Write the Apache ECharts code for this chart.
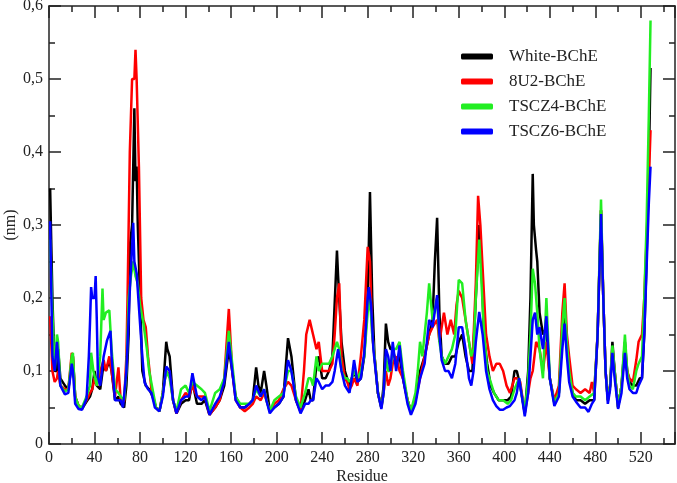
<!DOCTYPE html>
<html>
<head>
<meta charset="utf-8">
<title>RMSF</title>
<script src="https://cdn.jsdelivr.net/npm/echarts@6/dist/echarts.min.js"></script>
<style>
	html, body { margin: 0; padding: 0; background: #fff; }
	#main { width: 677px; height: 483px; }
</style>
</head>
<body>
<div id="main"></div>
<script>
	// 数据：[残基, 值(nm)]
	var seriesNames = ['White-BChE', '8U2-BChE', 'TSCZ4-BChE', 'TSCZ6-BChE'];
	var seriesColors = ['#000000', '#ff0000', '#22ee22', '#0000ff'];
	var xTicks = [0, 40, 80, 120, 160, 200, 240, 280, 320, 360, 400, 440, 480, 520];
	var yTicks = [0, 0.1, 0.2, 0.3, 0.4, 0.5, 0.6];

	var whiteBChE = [[1,0.35],[3,0.2],[5,0.1],[7,0.1],[8,0.13],[10,0.09],[14,0.08],[17,0.075],[20,0.11],[21,0.12],[23,0.065],[26,0.052],[29,0.048],[33,0.058],[36,0.065],[38,0.075],[40,0.1],[42,0.08],[45,0.075],[48,0.11],[50,0.1],[53,0.115],[55,0.1],[58,0.06],[61,0.065],[63,0.055],[66,0.05],[68,0.08],[70,0.15],[71,0.27],[73,0.3],[75,0.46],[76,0.36],[77,0.38],[78,0.3],[80,0.2],[82,0.1],[85,0.08],[88,0.075],[91,0.065],[94,0.05],[97,0.045],[100,0.07],[103,0.14],[104,0.13],[106,0.12],[109,0.06],[112,0.042],[116,0.055],[120,0.06],[123,0.06],[126,0.085],[130,0.055],[134,0.055],[137,0.06],[141,0.04],[146,0.05],[150,0.06],[154,0.08],[158,0.13],[161,0.1],[164,0.065],[168,0.05],[172,0.05],[176,0.055],[179,0.06],[182,0.105],[184,0.08],[186,0.07],[189,0.1],[191,0.08],[194,0.045],[198,0.05],[202,0.055],[206,0.065],[210,0.145],[213,0.12],[217,0.06],[221,0.045],[225,0.06],[228,0.075],[230,0.06],[232,0.06],[235,0.11],[237,0.12],[240,0.09],[243,0.09],[246,0.1],[249,0.12],[253,0.265],[254,0.23],[255,0.2],[257,0.14],[260,0.1],[262,0.09],[264,0.08],[266,0.09],[268,0.1],[271,0.085],[274,0.09],[277,0.12],[280,0.2],[282,0.345],[284,0.2],[286,0.12],[289,0.07],[292,0.05],[294,0.08],[296,0.165],[298,0.14],[300,0.13],[302,0.13],[305,0.11],[308,0.12],[311,0.09],[315,0.06],[318,0.045],[322,0.06],[326,0.1],[330,0.12],[334,0.15],[337,0.17],[339,0.25],[341,0.31],[343,0.18],[345,0.12],[348,0.11],[351,0.11],[354,0.12],[357,0.12],[360,0.14],[363,0.15],[366,0.12],[369,0.1],[372,0.1],[375,0.2],[378,0.3],[380,0.25],[382,0.15],[385,0.11],[388,0.08],[391,0.07],[395,0.06],[399,0.06],[403,0.06],[406,0.065],[409,0.1],[411,0.1],[414,0.08],[418,0.042],[421,0.1],[423,0.2],[425,0.37],[426,0.3],[428,0.265],[429,0.25],[431,0.18],[434,0.15],[437,0.16],[440,0.09],[444,0.056],[448,0.07],[451,0.15],[453,0.19],[455,0.14],[457,0.1],[460,0.07],[463,0.06],[467,0.06],[471,0.055],[475,0.06],[479,0.06],[482,0.15],[485,0.32],[487,0.2],[489,0.1],[491,0.06],[493,0.08],[495,0.14],[497,0.1],[500,0.05],[503,0.08],[506,0.14],[508,0.1],[510,0.085],[513,0.08],[516,0.08],[519,0.09],[521,0.09],[523,0.15],[525,0.25],[527,0.38],[528.5,0.515]];

	var u8BChE = [[1,0.175],[3,0.1],[5,0.085],[7,0.09],[8,0.1],[10,0.08],[14,0.075],[17,0.075],[20,0.125],[21,0.12],[23,0.065],[26,0.052],[29,0.05],[33,0.06],[36,0.07],[38,0.075],[40,0.09],[42,0.08],[45,0.1],[48,0.115],[50,0.1],[53,0.12],[55,0.1],[58,0.065],[61,0.105],[63,0.06],[66,0.058],[68,0.12],[69,0.2],[71,0.4],[73,0.5],[75,0.5],[76,0.54],[77,0.5],[78,0.5],[79,0.38],[81,0.2],[83,0.17],[85,0.16],[87,0.12],[90,0.075],[94,0.05],[97,0.045],[100,0.07],[103,0.1],[106,0.095],[109,0.06],[112,0.042],[116,0.06],[120,0.07],[123,0.065],[126,0.08],[130,0.065],[134,0.065],[137,0.065],[141,0.04],[146,0.05],[150,0.06],[154,0.09],[158,0.185],[161,0.1],[164,0.06],[168,0.05],[172,0.045],[176,0.05],[179,0.055],[182,0.065],[186,0.06],[189,0.07],[191,0.06],[194,0.045],[198,0.055],[202,0.06],[206,0.075],[210,0.085],[213,0.08],[217,0.06],[221,0.045],[224,0.1],[226,0.15],[229,0.17],[232,0.15],[235,0.13],[237,0.14],[240,0.1],[243,0.1],[246,0.1],[249,0.11],[251,0.15],[253,0.2],[255,0.22],[257,0.12],[260,0.09],[262,0.085],[264,0.075],[266,0.08],[268,0.09],[271,0.08],[274,0.12],[277,0.17],[280,0.27],[282,0.25],[284,0.15],[286,0.12],[289,0.07],[292,0.05],[294,0.07],[296,0.1],[298,0.08],[300,0.09],[302,0.11],[305,0.12],[308,0.1],[311,0.09],[315,0.06],[318,0.045],[322,0.06],[326,0.09],[330,0.12],[334,0.15],[337,0.16],[341,0.17],[343,0.14],[345,0.16],[347,0.18],[350,0.15],[353,0.17],[356,0.15],[358,0.19],[360,0.21],[363,0.2],[366,0.17],[369,0.14],[372,0.11],[375,0.22],[377,0.34],[379,0.3],[381,0.24],[384,0.15],[387,0.12],[390,0.1],[393,0.11],[396,0.11],[399,0.1],[402,0.08],[405,0.07],[409,0.09],[411,0.09],[414,0.085],[418,0.042],[421,0.07],[423,0.09],[425,0.1],[428,0.14],[431,0.13],[434,0.1],[437,0.14],[440,0.09],[444,0.06],[448,0.08],[451,0.18],[453,0.22],[455,0.15],[457,0.12],[460,0.08],[463,0.075],[467,0.07],[471,0.075],[475,0.07],[477,0.085],[479,0.07],[482,0.15],[485,0.32],[487,0.2],[489,0.1],[491,0.06],[493,0.08],[495,0.13],[497,0.1],[500,0.05],[503,0.08],[506,0.13],[508,0.1],[510,0.09],[513,0.085],[516,0.115],[518,0.14],[521,0.15],[523,0.2],[525,0.28],[527,0.36],[528.5,0.43]];

	var tscz4BChE = [[1,0.28],[3,0.18],[5,0.1],[7,0.15],[8,0.14],[10,0.08],[14,0.072],[17,0.075],[20,0.12],[21,0.125],[23,0.065],[26,0.052],[29,0.05],[33,0.065],[36,0.08],[37,0.125],[39,0.1],[42,0.08],[45,0.12],[47,0.213],[48,0.17],[50,0.18],[53,0.183],[55,0.13],[58,0.075],[61,0.07],[63,0.065],[66,0.06],[68,0.1],[70,0.2],[72,0.23],[74,0.25],[76,0.23],[78,0.22],[80,0.19],[83,0.165],[86,0.13],[88,0.1],[91,0.075],[94,0.05],[97,0.045],[100,0.07],[103,0.1],[106,0.09],[109,0.06],[112,0.045],[116,0.075],[120,0.08],[123,0.07],[126,0.085],[130,0.08],[134,0.075],[137,0.07],[141,0.045],[146,0.07],[150,0.075],[154,0.09],[158,0.155],[161,0.11],[164,0.065],[168,0.055],[172,0.055],[176,0.055],[179,0.06],[182,0.075],[186,0.065],[189,0.075],[191,0.06],[194,0.045],[198,0.06],[202,0.065],[206,0.07],[210,0.1],[213,0.1],[217,0.065],[221,0.05],[225,0.07],[228,0.09],[230,0.09],[232,0.08],[235,0.12],[237,0.1],[240,0.11],[243,0.11],[246,0.11],[249,0.12],[253,0.14],[255,0.13],[257,0.1],[260,0.09],[262,0.09],[264,0.085],[266,0.09],[268,0.1],[271,0.09],[274,0.1],[277,0.12],[280,0.18],[282,0.2],[284,0.15],[286,0.12],[289,0.07],[292,0.05],[294,0.07],[296,0.12],[298,0.1],[300,0.1],[302,0.13],[305,0.13],[308,0.14],[311,0.1],[315,0.06],[318,0.045],[322,0.07],[324,0.1],[326,0.14],[328,0.12],[330,0.15],[332,0.18],[334,0.22],[337,0.17],[341,0.2],[343,0.14],[345,0.12],[348,0.11],[351,0.12],[354,0.13],[357,0.15],[360,0.225],[363,0.22],[366,0.17],[368,0.15],[371,0.12],[373,0.13],[375,0.2],[378,0.28],[380,0.22],[382,0.16],[385,0.1],[388,0.085],[391,0.07],[395,0.06],[399,0.06],[403,0.055],[406,0.06],[409,0.075],[413,0.09],[415,0.07],[418,0.045],[421,0.09],[423,0.15],[425,0.24],[427,0.22],[429,0.18],[431,0.13],[434,0.09],[437,0.2],[440,0.09],[444,0.056],[448,0.07],[451,0.16],[453,0.2],[455,0.14],[457,0.1],[460,0.07],[463,0.065],[467,0.065],[471,0.06],[475,0.065],[479,0.07],[482,0.15],[485,0.335],[487,0.2],[489,0.1],[491,0.06],[493,0.08],[495,0.135],[497,0.1],[500,0.05],[503,0.08],[506,0.15],[508,0.1],[510,0.08],[513,0.075],[516,0.1],[518,0.11],[521,0.12],[523,0.2],[525,0.3],[527,0.45],[528.5,0.58]];

	var tscz6BChE = [[1,0.305],[3,0.12],[5,0.1],[7,0.14],[8,0.12],[10,0.08],[14,0.068],[17,0.07],[20,0.11],[21,0.1],[23,0.055],[26,0.048],[29,0.047],[33,0.062],[35,0.12],[36,0.165],[37,0.215],[38,0.2],[40,0.2],[41,0.23],[42,0.17],[43,0.092],[45,0.08],[48,0.12],[51,0.142],[54,0.155],[55,0.12],[58,0.06],[61,0.06],[63,0.06],[65,0.05],[68,0.1],[71,0.21],[73,0.27],[74,0.303],[75,0.25],[77,0.234],[80,0.165],[82,0.12],[84,0.084],[87,0.075],[90,0.07],[93,0.05],[97,0.045],[100,0.065],[103,0.106],[106,0.1],[109,0.06],[112,0.042],[116,0.06],[120,0.065],[123,0.065],[126,0.097],[130,0.065],[134,0.06],[137,0.065],[141,0.04],[146,0.055],[150,0.065],[154,0.085],[158,0.14],[161,0.1],[164,0.06],[168,0.05],[172,0.05],[176,0.055],[179,0.06],[182,0.08],[186,0.065],[189,0.075],[191,0.06],[194,0.042],[198,0.05],[202,0.055],[206,0.065],[210,0.115],[213,0.1],[217,0.06],[221,0.042],[225,0.055],[228,0.055],[230,0.06],[232,0.06],[235,0.09],[237,0.085],[240,0.075],[243,0.08],[246,0.08],[249,0.085],[251,0.1],[254,0.13],[257,0.1],[260,0.08],[262,0.075],[264,0.07],[266,0.09],[268,0.115],[271,0.085],[274,0.09],[277,0.125],[280,0.2],[281,0.215],[283,0.19],[285,0.13],[287,0.1],[289,0.07],[292,0.048],[294,0.07],[296,0.13],[298,0.12],[300,0.1],[302,0.14],[305,0.1],[308,0.135],[311,0.09],[315,0.055],[318,0.04],[322,0.055],[326,0.09],[330,0.11],[334,0.17],[337,0.16],[341,0.204],[343,0.15],[345,0.115],[348,0.1],[351,0.1],[354,0.09],[357,0.11],[360,0.16],[363,0.16],[366,0.13],[369,0.09],[371,0.08],[373,0.1],[375,0.14],[378,0.181],[381,0.15],[384,0.1],[387,0.075],[390,0.06],[393,0.052],[396,0.047],[399,0.047],[402,0.05],[405,0.052],[409,0.06],[411,0.07],[413,0.09],[415,0.07],[418,0.038],[421,0.07],[423,0.12],[425,0.17],[427,0.18],[429,0.15],[431,0.16],[434,0.13],[437,0.175],[440,0.09],[444,0.052],[448,0.065],[451,0.13],[453,0.165],[455,0.12],[457,0.085],[460,0.065],[463,0.058],[467,0.05],[471,0.05],[474,0.044],[477,0.055],[479,0.06],[482,0.15],[485,0.315],[487,0.2],[489,0.1],[491,0.055],[493,0.075],[495,0.125],[497,0.09],[500,0.048],[503,0.07],[506,0.125],[508,0.09],[510,0.075],[513,0.07],[516,0.07],[518,0.08],[521,0.09],[523,0.15],[525,0.24],[527,0.33],[528.5,0.38]];

	var seriesData = [whiteBChE, u8BChE, tscz4BChE, tscz6BChE];

	var font = 'Liberation Serif';
	var axisColor = '#222';

	// 公共坐标轴样式（刻度朝内，上/右镜像）
	function baseAxis(extra) {
		var a = {
			type: 'value',
			axisLine: { show: true, onZero: false, lineStyle: { color: axisColor, width: 1.5 } },
			axisTick: { show: true, inside: true, length: 12, lineStyle: { color: axisColor, width: 1.5 } },
			minorTick: { show: true, splitNumber: 2, length: 6, lineStyle: { color: axisColor, width: 1.5 } },
			splitLine: { show: false },
			axisLabel: { fontFamily: font, fontSize: 16, color: '#222' }
		};
		for (var k in extra) { a[k] = extra[k]; }
		return a;
	}

	var xMin = xTicks[0], xStep = xTicks[1] - xTicks[0];
	var yMin = yTicks[0], yMax = yTicks[yTicks.length - 1], yStep = 0.1;

	var myChart = echarts.init(document.getElementById('main'));

	var series = [];
	for (var i = 0; i < seriesNames.length; i++) {
		series.push({
			name: seriesNames[i],
			type: 'line',
			data: seriesData[i],
			showSymbol: false,
			symbol: 'none',
			lineStyle: { color: seriesColors[i], width: 2.5 },
			itemStyle: { color: seriesColors[i] },
			animation: false
		});
	}

	myChart.setOption({
		animation: false,
		grid: { left: 49, right: 2, top: 6, bottom: 39, containLabel: false, outerBoundsMode: 'none' },
		legend: {
			orient: 'vertical',
			left: 461,
			top: 48,
			padding: 0,
			itemWidth: 32,
			itemHeight: 6,
			itemGap: 8,
			icon: 'roundRect',
			data: seriesNames,
			textStyle: { fontFamily: font, fontSize: 17, color: '#222', padding: [0, 0, 0, 11] }
		},
		xAxis: [
			baseAxis({
				min: xMin, max: 550, interval: xStep,
				name: 'Residue', nameLocation: 'middle', nameGap: 25, nameMoveOverlap: false,
				nameTextStyle: { fontFamily: font, fontSize: 16, color: '#222' },
				axisLabel: { fontFamily: font, fontSize: 16, color: '#222', showMaxLabel: false, margin: 6 }
			}),
			baseAxis({
				min: xMin, max: 550, interval: xStep, position: 'top',
				axisLabel: { show: false }
			})
		],
		yAxis: [
			baseAxis({
				min: yMin, max: yMax, interval: yStep,
				name: '(nm)', nameLocation: 'middle', nameGap: 30, nameMoveOverlap: false,
				nameTextStyle: { fontFamily: font, fontSize: 16, color: '#222' },
				axisLabel: {
					fontFamily: font, fontSize: 16, color: '#222', margin: 6,
					formatter: function(v) { return v === 0 ? '0' : v.toFixed(1).replace('.', ','); }
				}
			}),
			baseAxis({
				min: yMin, max: yMax, interval: yStep, position: 'right',
				axisLabel: { show: false }
			})
		],
		series: series
	});
</script>
</body>
</html>
